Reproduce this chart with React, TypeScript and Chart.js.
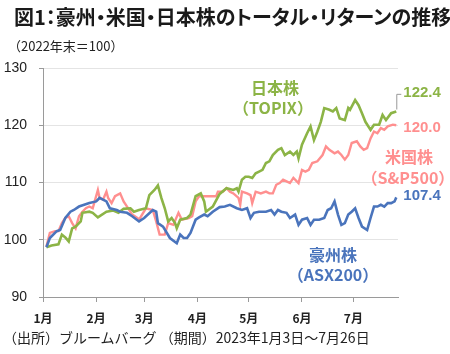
import React, { useEffect, useRef } from "react";
import { Chart, registerables } from "chart.js";

Chart.register(...registerables);

// Day offsets from 2023-01-01 (business days sampled) and index values (2022 year-end = 100)
const asxDays = [2, 4, 8, 10, 13, 16, 18, 21, 24, 27, 31, 33, 37, 39, 43, 45, 49, 52, 56, 59, 64, 66, 67, 70, 74, 78, 80, 82, 84, 86, 89, 91, 94, 96, 99, 103, 106, 109, 113, 116, 119, 121, 123, 126, 130, 133, 135, 137, 139, 142, 144, 147, 149, 151, 154, 156, 158, 161, 164, 166, 168, 170, 172, 174, 176, 178, 180, 182, 184, 186, 189, 191, 193, 195, 197, 199, 201, 203, 205, 206];
const asxValues = [98.7, 100.3, 101.5, 101.7, 103.8, 104.9, 105.2, 105.8, 106.1, 106.4, 106.7, 107.3, 106.7, 105.5, 105.2, 104.9, 104.7, 104.1, 103.2, 103.8, 105.2, 104.9, 102.9, 102.3, 100.3, 99.4, 100.9, 100.3, 100.3, 101.2, 103.5, 103.9, 104.4, 104.1, 104.9, 105.7, 105.8, 106.1, 105.5, 105.2, 105.5, 103.8, 104.7, 104.9, 104.9, 105.2, 104.4, 105.2, 104.9, 104.7, 103.8, 104.4, 102.6, 103.5, 103.8, 102.6, 103.5, 103.5, 103.8, 105.2, 105.5, 106.7, 104.4, 102.6, 102.9, 104.4, 104.9, 105.5, 103.8, 102.3, 101.7, 103.8, 105.8, 105.8, 106.1, 105.8, 106.4, 106.4, 106.7, 107.4];

const topixDays = [2, 5, 9, 11, 13, 15, 17, 19, 22, 23, 27, 29, 32, 37, 41, 44, 47, 51, 53, 56, 60, 62, 65, 67, 69, 71, 73, 75, 77, 78, 80, 84, 86, 89, 92, 94, 95, 99, 103, 107, 111, 113, 114, 116, 118, 120, 122, 124, 126, 128, 130, 132, 134, 137, 139, 141, 144, 146, 148, 149, 151, 154, 156, 158, 160, 162, 164, 167, 169, 171, 173, 176, 178, 179, 182, 184, 186, 188, 191, 193, 196, 198, 200, 203, 206];
const topixValues = [98.7, 99.0, 99.2, 100.9, 100.4, 99.7, 102.0, 102.3, 103.2, 104.7, 104.9, 104.7, 103.9, 104.9, 105.1, 104.7, 105.4, 105.5, 104.9, 105.2, 105.5, 107.8, 108.7, 109.5, 107.3, 105.5, 103.2, 103.8, 102.9, 102.0, 103.5, 103.8, 104.4, 107.6, 108.1, 106.7, 104.9, 105.8, 108.0, 109.0, 108.7, 109.0, 108.4, 110.5, 111.0, 111.0, 110.8, 111.6, 111.9, 112.2, 113.4, 113.7, 114.8, 115.7, 116.0, 114.8, 115.4, 114.8, 115.4, 114.2, 116.6, 118.6, 119.8, 117.4, 118.9, 120.6, 123.0, 122.7, 122.4, 123.0, 121.2, 120.9, 123.0, 122.7, 124.4, 123.5, 122.1, 120.6, 119.2, 120.1, 120.1, 121.8, 120.9, 122.1, 122.4];

const spxDays = [2, 4, 7, 9, 11, 13, 15, 17, 19, 21, 23, 25, 27, 29, 32, 33, 35, 37, 38, 40, 42, 45, 47, 49, 52, 55, 56, 60, 64, 66, 68, 71, 73, 76, 79, 81, 85, 87, 89, 91, 95, 101, 102, 105, 107, 109, 111, 114, 115, 116, 119, 121, 122, 124, 127, 130, 132, 134, 136, 138, 140, 142, 144, 146, 148, 149, 151, 153, 155, 157, 160, 163, 165, 167, 170, 172, 174, 176, 178, 180, 183, 185, 187, 189, 191, 193, 195, 197, 199, 201, 204, 206];
const spxValues = [98.8, 101.2, 101.5, 101.5, 102.9, 103.8, 104.1, 102.9, 102.0, 104.1, 104.9, 105.5, 105.8, 105.5, 108.7, 107.3, 107.0, 108.4, 107.3, 106.4, 107.6, 108.1, 106.7, 105.8, 104.4, 103.8, 103.5, 105.5, 105.2, 103.2, 100.9, 100.9, 102.9, 102.6, 104.7, 103.5, 103.8, 104.1, 106.7, 107.6, 107.6, 107.6, 108.4, 108.4, 109.0, 108.4, 108.1, 107.3, 106.1, 108.4, 108.1, 107.8, 106.4, 108.4, 108.1, 108.4, 108.1, 108.1, 109.6, 109.9, 110.5, 110.2, 109.9, 110.8, 110.2, 109.9, 112.2, 111.9, 112.2, 113.4, 113.7, 114.8, 116.3, 115.7, 115.1, 115.4, 114.8, 114.0, 114.8, 116.9, 117.2, 116.3, 115.7, 116.0, 117.7, 118.9, 118.6, 119.5, 119.2, 119.8, 120.1, 120.0];

const monthStarts = [0, 31, 59, 90, 120, 151, 181];
const monthLabels = ["1月", "2月", "3月", "4月", "5月", "6月", "7月"];
const yTicks = [90, 100, 110, 120, 130];

const endLabels = ["122.4", "120.0", "107.4"];
const seriesNames = ["日本株", "（TOPIX）", "米国株", "（S&P500）", "豪州株", "（ASX200）"];

const GREEN = "#8CB446";
const PINK = "#FF8F8F";
const BLUE = "#4A74BC";

const toPoints = (days: number[], vals: number[]) => days.map((d, i) => ({ x: d, y: vals[i] }));

const annotPlugin = {
  id: "annot",
  afterDatasetsDraw(chart: any) {
    const { ctx, scales } = chart;
    const x = scales.x;
    const y = scales.y;
    const lastDay = 206;
    const endX = x.getPixelForValue(lastDay);
    ctx.save();
    ctx.strokeStyle = "#999";
    ctx.lineWidth = 1;
    ctx.beginPath();
    ctx.moveTo(endX + 0.5, y.getPixelForValue(122.4) - 2);
    ctx.lineTo(endX + 0.5, y.getPixelForValue(125.4));
    ctx.lineTo(endX + 5, y.getPixelForValue(125.4));
    ctx.stroke();

    ctx.textBaseline = "middle";
    ctx.textAlign = "left";
    ctx.font = "bold 15px 'Liberation Sans', Arial, sans-serif";
    ctx.fillStyle = GREEN;
    ctx.fillText(endLabels[0], endX + 7, y.getPixelForValue(125.6));
    ctx.fillStyle = PINK;
    ctx.fillText(endLabels[1], endX + 7, y.getPixelForValue(119.6));
    ctx.fillStyle = BLUE;
    ctx.fillText(endLabels[2], endX + 7, y.getPixelForValue(107.6));

    ctx.textAlign = "center";
    ctx.font = "bold 16px 'Noto Sans CJK JP', sans-serif";
    ctx.fillStyle = GREEN;
    ctx.fillText(seriesNames[0], x.getPixelForValue(135.3), y.getPixelForValue(126.6));
    ctx.fillText(seriesNames[1], x.getPixelForValue(134.1), y.getPixelForValue(123.1));
    ctx.fillStyle = PINK;
    ctx.fillText(seriesNames[2], x.getPixelForValue(213.4), y.getPixelForValue(114.5));
    ctx.fillText(seriesNames[3], x.getPixelForValue(212.8), y.getPixelForValue(110.8));
    ctx.fillStyle = BLUE;
    ctx.fillText(seriesNames[4], x.getPixelForValue(169.1), y.getPixelForValue(97.4));
    ctx.fillText(seriesNames[5], x.getPixelForValue(169.1), y.getPixelForValue(93.9));
    ctx.restore();
  },
};

export default function App() {
  const canvasRef = useRef<HTMLCanvasElement | null>(null);

  useEffect(() => {
    const canvas = canvasRef.current;
    if (!canvas) return;
    const chart = new Chart(canvas, {
      type: "line",
      data: {
        datasets: [
          {
            label: "豪州株（ASX200）",
            data: toPoints(asxDays, asxValues),
            borderColor: BLUE,
            borderWidth: 2.6,
            pointRadius: 0,
            tension: 0,
            order: 0,
          },
          {
            label: "日本株（TOPIX）",
            data: toPoints(topixDays, topixValues),
            borderColor: GREEN,
            borderWidth: 2.6,
            pointRadius: 0,
            tension: 0,
            order: 1,
          },
          {
            label: "米国株（S&P500）",
            data: toPoints(spxDays, spxValues),
            borderColor: PINK,
            borderWidth: 2.4,
            pointRadius: 0,
            tension: 0,
            order: 2,
          },
        ],
      },
      options: {
        animation: false,
        responsive: false,
        devicePixelRatio: 1,
        parsing: false as any,
        layout: { padding: { left: 0, top: 68, right: 52, bottom: 0 } },
        plugins: {
          legend: { display: false },
          tooltip: { enabled: false },
          title: { display: false },
        },
        scales: {
          x: {
            type: "linear",
            min: 0,
            max: 207,
            afterBuildTicks: (scale: any) => {
              scale.ticks = monthStarts.map((v) => ({ value: v }));
            },
            afterFit: (scale: any) => {
              scale.height = 57;
            },
            grid: {
              drawOnChartArea: false,
              drawTicks: true,
              tickLength: 5,
              tickColor: "#9a9a9a",
            },
            border: { display: true, color: "#9a9a9a", width: 1 },
            ticks: {
              autoSkip: false,
              maxRotation: 0,
              padding: 9,
              color: "#222",
              font: { family: "'Noto Sans CJK JP', sans-serif", size: 12, weight: "bold" },
              callback: (_v: any, i: number) => monthLabels[i],
            },
          },
          y: {
            min: 90,
            max: 130,
            afterBuildTicks: (scale: any) => {
              scale.ticks = yTicks.map((v) => ({ value: v }));
            },
            afterFit: (scale: any) => {
              scale.width = 43;
            },
            grid: {
              color: "#e4e4e4",
              lineWidth: 1,
              drawTicks: true,
              tickLength: 4,
              tickColor: "#9a9a9a",
            },
            border: { display: true, color: "#9a9a9a", width: 1 },
            ticks: {
              padding: 12,
              color: "#222",
              font: { family: "'Liberation Sans', Arial, sans-serif", size: 14 },
            },
          },
        },
      },
      plugins: [annotPlugin],
    });
    return () => chart.destroy();
  }, []);

  const cjk = "'Noto Sans CJK JP', sans-serif";
  return (
    <div style={{ position: "fixed", left: 0, top: 0, width: 450, height: 354, background: "#fff", overflow: "hidden" }}>
      <canvas ref={canvasRef} width={450} height={354} style={{ display: "block", position: "absolute", left: 0, top: 0 }} />
      <div style={{ position: "absolute", left: 14, top: 7, fontFamily: cjk, fontWeight: "bold", fontSize: 20, lineHeight: 1, whiteSpace: "nowrap", color: "#1a1a1a", fontFeatureSettings: '"palt"' }}>
        図1：豪州・米国・日本株のトータル・リターンの推移
      </div>
      <div style={{ position: "absolute", left: 8, top: 39, fontFamily: cjk, fontSize: 13, lineHeight: 1, whiteSpace: "nowrap", color: "#222" }}>
        （2022年末＝100）
      </div>
      <div style={{ position: "absolute", left: 3, top: 330, fontFamily: cjk, fontSize: 14, lineHeight: 1, whiteSpace: "nowrap", color: "#222" }}>
        （出所）ブルームバーグ （期間）2023年1月3日～7月26日
      </div>
    </div>
  );
}
